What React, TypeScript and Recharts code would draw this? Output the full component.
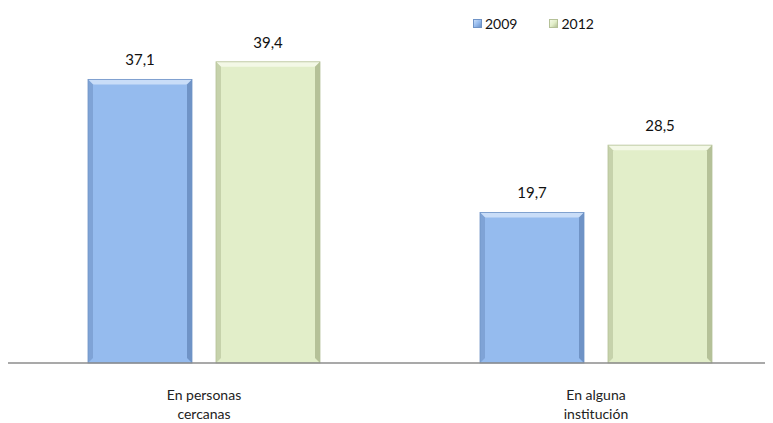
import React from "react";
import { BarChart, Bar, XAxis, YAxis, LabelList } from "recharts";

const categories = ["En personas\ncercanas", "En alguna\ninstitución"];
const values2009 = [37.1, 19.7];
const values2012 = [39.4, 28.5];
const seriesNames = ["2009", "2012"];

const data = categories.map((name, i) => ({
  name,
  y2009: values2009[i],
  y2012: values2012[i],
}));

const palette: Record<string, { fill: string; light: string; dark: string; edge: string }> = {
  blue: { fill: "#95BBEE", light: "#C9DDF8", dark: "#6F93C6", edge: "#7FA3D6" },
  green: { fill: "#E2EEC9", light: "#F3F8E6", dark: "#B5C198", edge: "#C6D2AB" },
};

const font = "Lato, 'Open Sans', sans-serif";

const BevelBar = (props: any) => {
  const { x, y, width, height, colorKey } = props;
  if (!height || height <= 0) return null;
  const c = palette[colorKey];
  const b = 5;
  return (
    <g>
      <rect x={x} y={y} width={width} height={height} fill={c.fill} />
      <polygon
        points={`${x},${y} ${x + width},${y} ${x + width - b},${y + b} ${x + b},${y + b}`}
        fill={c.light}
      />
      <polygon
        points={`${x},${y} ${x + b},${y + b} ${x + b},${y + height - b} ${x},${y + height}`}
        fill={c.edge}
      />
      <polygon
        points={`${x + width},${y} ${x + width - b},${y + b} ${x + width - b},${y + height - b} ${x + width},${y + height}`}
        fill={c.dark}
      />
      <rect x={x} y={y} width={width} height={height} fill="none" stroke={c.dark} strokeWidth={0.8} />
    </g>
  );
};

const CategoryTick = (props: any) => {
  const { x, y, payload } = props;
  const lines = String(payload.value).split("\n");
  return (
    <text x={x} y={y} textAnchor="middle" fill="#222" fontSize={14} fontFamily={font}>
      {lines.map((l, i) => (
        <tspan key={i} x={x} dy={i === 0 ? 29 : 19}>
          {l}
        </tspan>
      ))}
    </text>
  );
};

const ChartLegend = () => (
  <div
    style={{
      position: "absolute",
      top: 7,
      left: 465,
      display: "flex",
      fontFamily: font,
      fontSize: 14,
      color: "#111",
    }}
  >
    {seriesNames.map((n, i) => {
      const c = palette[i === 0 ? "blue" : "green"];
      return (
        <div key={n} style={{ display: "flex", alignItems: "center", marginRight: 32 }}>
          <span
            style={{
              display: "inline-block",
              width: 9,
              height: 9,
              background: `linear-gradient(135deg, ${c.light}, ${c.fill} 50%, ${c.dark})`,
              border: `1px solid ${c.dark}`,
              marginRight: 3,
              boxSizing: "border-box",
            }}
          />
          <span>{n}</span>
        </div>
      );
    })}
  </div>
);

const fmt = (v: any) => String(v).replace(".", ",");

export default function App() {
  return (
    <div style={{ position: "relative", width: 765, height: 415, overflow: "hidden" }}>
      <BarChart
        width={784}
        height={415}
        data={data}
        margin={{ top: 11, right: 0, bottom: 0, left: 0 }}
        barSize={104}
        barGap={24}
      >
        <YAxis hide domain={[0, 45]} />
        <XAxis
          dataKey="name"
          axisLine={{ stroke: "#8C8C8C", strokeWidth: 1.5 }}
          tickLine={false}
          height={60}
          interval={0}
          tick={<CategoryTick />}
        />
        <Bar dataKey="y2009" name="2009" isAnimationActive={false} shape={(p: any) => <BevelBar {...p} colorKey="blue" />}>
          <LabelList dataKey="y2009" position="top" offset={14} formatter={fmt} fill="#111" fontSize={15} fontFamily={font} />
        </Bar>
        <Bar dataKey="y2012" name="2012" isAnimationActive={false} shape={(p: any) => <BevelBar {...p} colorKey="green" />}>
          <LabelList dataKey="y2012" position="top" offset={14} formatter={fmt} fill="#111" fontSize={15} fontFamily={font} />
        </Bar>
      </BarChart>
      <ChartLegend />
    </div>
  );
}
